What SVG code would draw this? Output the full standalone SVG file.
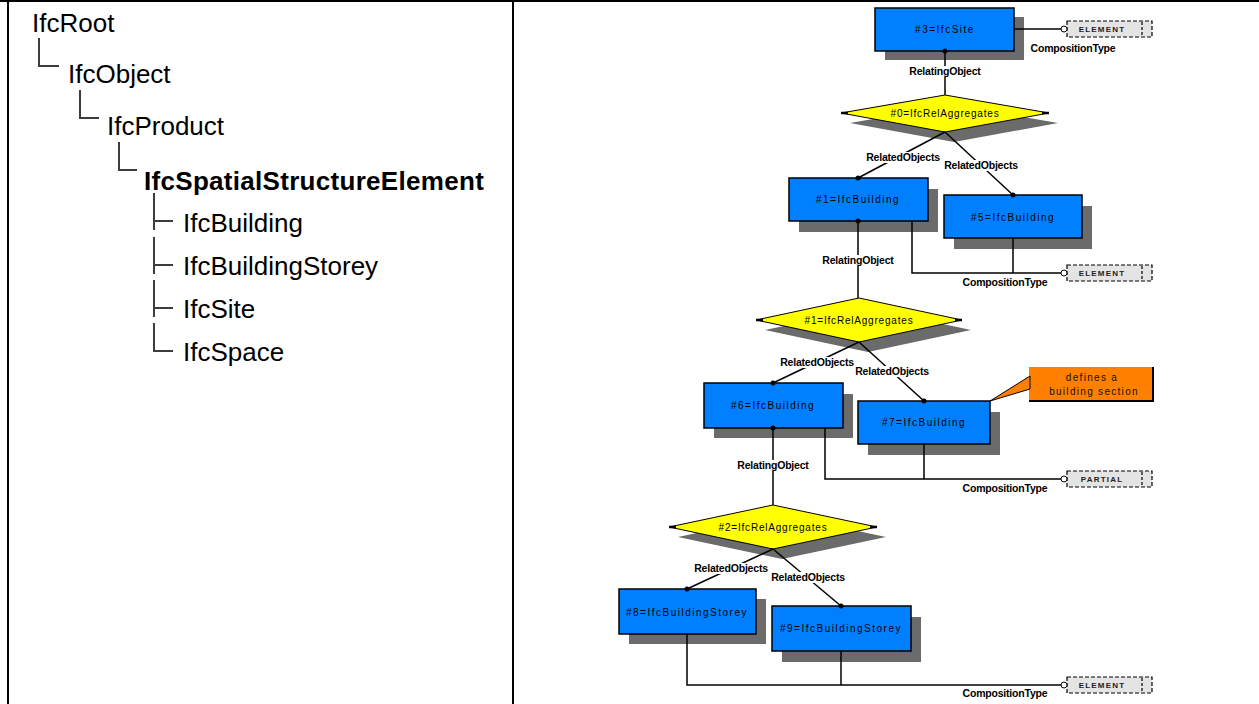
<svg xmlns="http://www.w3.org/2000/svg" width="1259" height="704" viewBox="0 0 1259 704">
  <style>
    .frame { stroke: #000; stroke-width: 2; fill: none; }
    .tree-line { stroke: #3c3c3c; stroke-width: 2; fill: none; }
    .tree-text { font-family: "Liberation Sans", Arial, sans-serif; font-size: 26px; fill: #000; }
    .tree-bold { font-weight: bold; letter-spacing: 0.3px; }
    .shadow { fill: #6b6b6b; }
    .entity { fill: #0080ff; stroke: #000; stroke-width: 1.5; }
    .rel { fill: #ffff00; stroke: #000; stroke-width: 1; }
    .tip { stroke: #000; stroke-width: 2.5; }
    .ntext { font-family: "Liberation Sans", Arial, sans-serif; font-size: 10px; letter-spacing: 1.5px; fill: #000; text-anchor: middle; }
    .rtext { font-family: "Liberation Sans", Arial, sans-serif; font-size: 10px; letter-spacing: 0.8px; fill: #000; text-anchor: middle; }
    .conn { stroke: #000; stroke-width: 1.5; fill: none; }
    .dot { fill: #000; }
    .lbl-bg { fill: #fff; }
    .lbl { font-family: "Liberation Sans", Arial, sans-serif; font-size: 10.5px; font-weight: bold; fill: #000; text-anchor: middle; letter-spacing: -0.2px; }
    .tag { fill: #e4e4e4; stroke: #000; stroke-width: 1.2; stroke-dasharray: 4 2; }
    .tag-sep { stroke: #000; stroke-width: 1.2; stroke-dasharray: 3 2; }
    .tag-pin { fill: #fff; stroke: #000; stroke-width: 1; }
    .tagtext { font-family: "Liberation Sans", Arial, sans-serif; font-size: 8px; font-weight: bold; letter-spacing: 1.2px; fill: #222; text-anchor: middle; }
    .note { fill: #ff8000; }
    .note-edge { stroke: #000; stroke-width: 2; }
    .ntip { fill: #ff8000; stroke: #000; stroke-width: 1; }
    .notetext { font-family: "Liberation Sans", Arial, sans-serif; font-size: 10px; letter-spacing: 1.3px; fill: #111; text-anchor: middle; }
  </style>

  <!-- table frame -->
  <g id="frame">
    <line class="frame" x1="0" y1="1" x2="1259" y2="1"/>
    <line class="frame" x1="8" y1="0" x2="8" y2="704"/>
    <line class="frame" x1="513" y1="0" x2="513" y2="704"/>
  </g>

  <!-- inheritance tree -->
  <g id="tree">
    <path class="tree-line" d="M39 38 V66 H59"/>
    <path class="tree-line" d="M80 90 V118 H99"/>
    <path class="tree-line" d="M119 142 V170 H137"/>
    <path class="tree-line" d="M154 193 V230 M154 221 H173"/>
    <path class="tree-line" d="M154 237 V274 M154 265 H173"/>
    <path class="tree-line" d="M154 280 V317 M154 308 H173"/>
    <path class="tree-line" d="M154 323 V351 H173"/>
    <text class="tree-text" x="32" y="32">IfcRoot</text>
    <text class="tree-text" x="68" y="83">IfcObject</text>
    <text class="tree-text" x="107" y="135">IfcProduct</text>
    <text class="tree-text tree-bold" x="144" y="190">IfcSpatialStructureElement</text>
    <text class="tree-text" x="183" y="232">IfcBuilding</text>
    <text class="tree-text" x="183" y="275">IfcBuildingStorey</text>
    <text class="tree-text" x="183" y="318">IfcSite</text>
    <text class="tree-text" x="183" y="361">IfcSpace</text>
  </g>

  <!-- instance diagram: entities -->
  <g id="site3">
    <rect class="shadow" x="885" y="17" width="139" height="43"/>
    <rect class="entity" x="875" y="8" width="139" height="43"/>
    <text class="ntext" x="945" y="33">#3=IfcSite</text>
  </g>
  <g id="rel0">
    <polygon class="shadow" points="954,105 1058,123 954,142 850,123"/>
    <polygon class="rel" points="945,95 1049,113 945,132 841,113"/>
    <line class="tip" x1="841" y1="113" x2="848" y2="113"/>
    <line class="tip" x1="1042" y1="113" x2="1049" y2="113"/>
    <text class="rtext" x="945" y="117">#0=IfcRelAggregates</text>
  </g>
  <g id="building1">
    <rect class="shadow" x="799" y="189" width="139" height="43"/>
    <rect class="entity" x="789" y="178" width="139" height="43"/>
    <text class="ntext" x="858" y="203">#1=IfcBuilding</text>
  </g>
  <g id="building5">
    <rect class="shadow" x="954" y="206" width="138" height="43"/>
    <rect class="entity" x="944" y="195" width="138" height="43"/>
    <text class="ntext" x="1013" y="221">#5=IfcBuilding</text>
  </g>
  <g id="rel1">
    <polygon class="shadow" points="868,308 971,330 868,352 765,330"/>
    <polygon class="rel" points="859,298 962,320 859,342 756,320"/>
    <line class="tip" x1="756" y1="320" x2="763" y2="320"/>
    <line class="tip" x1="955" y1="320" x2="962" y2="320"/>
    <text class="rtext" x="859" y="324">#1=IfcRelAggregates</text>
  </g>
  <g id="building6">
    <rect class="shadow" x="714" y="394" width="139" height="44"/>
    <rect class="entity" x="704" y="383" width="139" height="45"/>
    <text class="ntext" x="773" y="409">#6=IfcBuilding</text>
  </g>
  <g id="building7">
    <rect class="shadow" x="868" y="412" width="132" height="43"/>
    <rect class="entity" x="858" y="401" width="132" height="43"/>
    <text class="ntext" x="924" y="426">#7=IfcBuilding</text>
  </g>
  <g id="rel2">
    <polygon class="shadow" points="782,515 886,537 782,559 678,537"/>
    <polygon class="rel" points="773,505 877,527 773,549 669,527"/>
    <line class="tip" x1="669" y1="527" x2="676" y2="527"/>
    <line class="tip" x1="870" y1="527" x2="877" y2="527"/>
    <text class="rtext" x="773" y="531">#2=IfcRelAggregates</text>
  </g>
  <g id="storey8">
    <rect class="shadow" x="629" y="599" width="137" height="45"/>
    <rect class="entity" x="619" y="589" width="137" height="45"/>
    <text class="ntext" x="687" y="616">#8=IfcBuildingStorey</text>
  </g>
  <g id="storey9">
    <rect class="shadow" x="782" y="617" width="139" height="45"/>
    <rect class="entity" x="772" y="606" width="139" height="45"/>
    <text class="ntext" x="841" y="632">#9=IfcBuildingStorey</text>
  </g>

  <!-- note -->
  <g id="note">
    <rect class="note" x="1029" y="367" width="123" height="33"/>
    <line class="note-edge" x1="1029" y1="401" x2="1153" y2="401"/>
    <line class="note-edge" x1="1153" y1="367" x2="1153" y2="402"/>
    <polygon class="ntip" points="1030,376 990,401 1030,389"/>
    <text class="notetext" x="1092" y="381">defines a</text>
    <text class="notetext" x="1094" y="395">building section</text>
  </g>

  <!-- enumeration values -->
  <g id="type-site">
    <rect class="tag" x="1067" y="21" width="85" height="16"/>
    <line class="tag-sep" x1="1142" y1="22" x2="1142" y2="36"/>
    <circle class="tag-pin" cx="1064" cy="29" r="3"/>
    <text class="tagtext" x="1102" y="32">ELEMENT</text>
  </g>
  <g id="type-building1">
    <rect class="tag" x="1067" y="265" width="85" height="16"/>
    <line class="tag-sep" x1="1142" y1="266" x2="1142" y2="280"/>
    <circle class="tag-pin" cx="1064" cy="273" r="3"/>
    <text class="tagtext" x="1102" y="276">ELEMENT</text>
  </g>
  <g id="type-building6">
    <rect class="tag" x="1067" y="471" width="85" height="16"/>
    <line class="tag-sep" x1="1142" y1="472" x2="1142" y2="486"/>
    <circle class="tag-pin" cx="1064" cy="479" r="3"/>
    <text class="tagtext" x="1102" y="482">PARTIAL</text>
  </g>
  <g id="type-storey">
    <rect class="tag" x="1067" y="677" width="85" height="16"/>
    <line class="tag-sep" x1="1142" y1="678" x2="1142" y2="692"/>
    <circle class="tag-pin" cx="1064" cy="685" r="3"/>
    <text class="tagtext" x="1102" y="688">ELEMENT</text>
  </g>

  <!-- connectors -->
  <g id="connectors">
    <line class="conn" x1="945" y1="51" x2="945" y2="95"/>
    <line class="conn" x1="945" y1="132" x2="858" y2="178"/>
    <line class="conn" x1="945" y1="132" x2="1013" y2="195"/>
    <line class="conn" x1="1014" y1="29" x2="1061" y2="29"/>
    <line class="conn" x1="858" y1="221" x2="858" y2="298"/>
    <polyline class="conn" points="912,221 912,273 1061,273"/>
    <line class="conn" x1="1013" y1="238" x2="1013" y2="273"/>
    <line class="conn" x1="859" y1="342" x2="773" y2="383"/>
    <line class="conn" x1="859" y1="342" x2="924" y2="401"/>
    <line class="conn" x1="773" y1="428" x2="773" y2="505"/>
    <polyline class="conn" points="825,428 825,479 1061,479"/>
    <line class="conn" x1="924" y1="444" x2="924" y2="479"/>
    <line class="conn" x1="773" y1="549" x2="687" y2="589"/>
    <line class="conn" x1="773" y1="549" x2="841" y2="606"/>
    <polyline class="conn" points="687,634 687,685 1061,685"/>
    <line class="conn" x1="841" y1="651" x2="841" y2="685"/>

    <circle class="dot" cx="945" cy="51" r="2.5"/>
    <circle class="dot" cx="858" cy="178" r="2.5"/>
    <circle class="dot" cx="858" cy="221" r="2.5"/>
    <circle class="dot" cx="1013" cy="195" r="2.5"/>
    <circle class="dot" cx="773" cy="383" r="2.5"/>
    <circle class="dot" cx="773" cy="428" r="2.5"/>
    <circle class="dot" cx="924" cy="401" r="2.5"/>
    <circle class="dot" cx="687" cy="589" r="2.5"/>
    <circle class="dot" cx="841" cy="606" r="2.5"/>

    <!-- role labels -->
    <rect class="lbl-bg" x="907" y="66" width="76" height="11"/>
    <text class="lbl" x="945" y="75">RelatingObject</text>
    <rect class="lbl-bg" x="864" y="152" width="78" height="11"/>
    <text class="lbl" x="903" y="161">RelatedObjects</text>
    <rect class="lbl-bg" x="942" y="160" width="78" height="11"/>
    <text class="lbl" x="981" y="169">RelatedObjects</text>
    <text class="lbl" x="1073" y="52">CompositionType</text>

    <rect class="lbl-bg" x="820" y="255" width="76" height="11"/>
    <text class="lbl" x="858" y="264">RelatingObject</text>
    <text class="lbl" x="1005" y="286">CompositionType</text>

    <rect class="lbl-bg" x="778" y="357" width="78" height="11"/>
    <text class="lbl" x="817" y="366">RelatedObjects</text>
    <rect class="lbl-bg" x="853" y="366" width="78" height="11"/>
    <text class="lbl" x="892" y="375">RelatedObjects</text>

    <rect class="lbl-bg" x="735" y="460" width="76" height="11"/>
    <text class="lbl" x="773" y="469">RelatingObject</text>
    <text class="lbl" x="1005" y="492">CompositionType</text>

    <rect class="lbl-bg" x="692" y="563" width="78" height="11"/>
    <text class="lbl" x="731" y="572">RelatedObjects</text>
    <rect class="lbl-bg" x="769" y="572" width="78" height="11"/>
    <text class="lbl" x="808" y="581">RelatedObjects</text>
    <text class="lbl" x="1005" y="697">CompositionType</text>
  </g>
</svg>
